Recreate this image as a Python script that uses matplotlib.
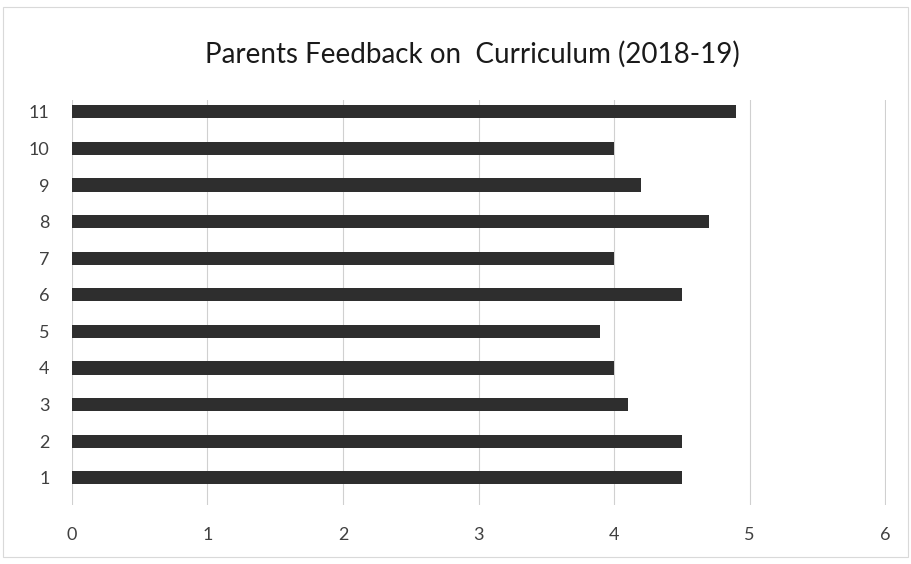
import matplotlib.pyplot as plt
from matplotlib.patches import Rectangle

# question numbers and average rating
questions = ["1", "2", "3", "4", "5", "6", "7", "8", "9", "10", "11"]
ratings = [4.5, 4.5, 4.1, 4.0, 3.9, 4.5, 4.0, 4.7, 4.2, 4.0, 4.9]
x_ticks = [0, 1, 2, 3, 4, 5, 6]

plt.rcParams["font.family"] = ["Lato", "DejaVu Sans"]

fig = plt.figure(figsize=(9.11, 5.64), dpi=100)
ax = fig.add_axes([0.079, 0.105, 0.894, 0.718])

pos = range(len(questions))
ax.barh(pos, ratings, height=0.36, color="#2e2e2e", zorder=3)

ax.set_xlim(0, 6.01)
ax.set_ylim(-0.74, len(questions) - 0.67)
ax.set_xticks(x_ticks)
ax.set_yticks(list(pos))
ax.set_yticklabels(questions)

ax.grid(axis="x", color="#d0d0d0", linewidth=0.8)
ax.set_axisbelow(True)
for s in ax.spines.values():
    s.set_visible(False)
ax.tick_params(length=0, labelsize=13, labelcolor="#404040")
ax.tick_params(axis="x", pad=16)
ax.tick_params(axis="y", pad=16)

fig.text(0.518, 0.903, "Parents Feedback on  Curriculum (2018-19)",
         ha="center", va="center", fontsize=20, color="#1a1a1a")

# faint chart border
fig.patches.append(Rectangle((0.003, 0.012), 0.994, 0.975, transform=fig.transFigure,
                             fill=False, edgecolor="#d9d9d9", linewidth=0.8))

fig.savefig("out.png", dpi=100)
